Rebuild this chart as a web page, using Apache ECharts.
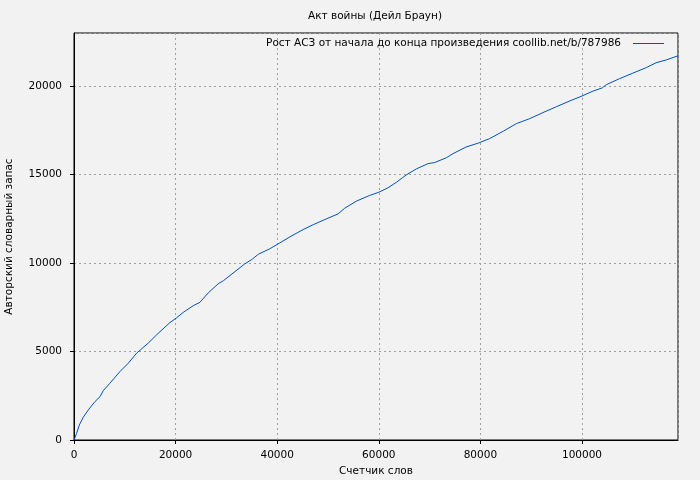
<!DOCTYPE html>
<html>
<head>
<meta charset="utf-8">
<script src="https://cdn.jsdelivr.net/npm/echarts@6/dist/echarts.min.js"></script>
<style>
html,body{margin:0;padding:0;background:#f2f2f2;}
#c{width:700px;height:480px;}
</style>
</head>
<body>
<div id="c"></div>
<script>
var chartTitle = 'Акт войны (Дейл Браун)';
var seriesName = 'Рост АСЗ от начала до конца произведения coollib.net/b/787986';
var xName = 'Счетчик слов';
var yName = 'Авторский словарный запас';

var wordCount = [0,200,520,1050,1830,2820,4130,5120,5770,7080,9050,10690,12330,14620,16270,18890,20130,21500,23470,24790,26420,28390,29400,31300,33600,35000,36300,38500,40000,42500,45100,47100,49400,52000,53300,55600,58200,60000,61800,63500,65400,67400,69700,71000,73300,74600,77200,79600,81800,84500,87100,89700,92300,95000,97600,100000,102200,104000,104800,107400,110000,112700,114600,116600,118900];
var vocabulary = [0,40,380,850,1285,1700,2170,2450,2790,3210,3870,4340,4910,5475,5946,6640,6890,7210,7590,7780,8310,8830,9000,9430,9950,10200,10500,10800,11050,11480,11890,12170,12460,12780,13100,13500,13820,14000,14250,14570,14980,15320,15620,15680,15950,16180,16560,16780,17030,17450,17880,18160,18500,18840,19160,19440,19720,19900,20080,20420,20730,21050,21320,21480,21710];

var xMax = 118900, xStep = 20000;
var yMax = 23000, yStep = 5000;

var pts = wordCount.map(function(x,i){return [x, vocabulary[i]];});
var font = 'DejaVu Sans';
var fs = 10.5;
var chart = echarts.init(document.getElementById('c'), null, {renderer:'canvas'});
chart.setOption({
  backgroundColor:'#f2f2f2',
  animation:false,
  textStyle:{fontFamily:font},
  graphic:[{type:'text', x:375, y:16, style:{text:chartTitle, font:fs+'px DejaVu Sans', fill:'#000', align:'center', verticalAlign:'middle'}}],
  legend:{show:true, right:36, top:38, padding:0, itemWidth:31, itemHeight:1, itemGap:0, icon:'rect', align:'right',
    textStyle:{fontFamily:font, fontSize:fs, color:'#000', padding:[0,7,0,0]}, data:[seriesName]},
  grid:{left:74, right:22, top:33, bottom:40, containLabel:false, outerBoundsMode:'none', show:true, borderColor:'#000', borderWidth:1, backgroundColor:'transparent'},
  xAxis:{type:'value', min:0, max:xMax, interval:xStep,
    name:xName, nameLocation:'middle', nameGap:26, nameTextStyle:{fontFamily:font,fontSize:fs,color:'#000'},
    axisLine:{show:true, lineStyle:{color:'#000',width:1}},
    axisTick:{show:true, inside:false, length:4, lineStyle:{color:'#000'}},
    axisLabel:{fontFamily:font, fontSize:fs, color:'#000', margin:10, showMaxLabel:false, formatter:function(v){return String(v);}},
    splitLine:{show:true, lineStyle:{color:'#a0a0a0', type:[2,3], width:1}}},
  yAxis:{type:'value', min:0, max:yMax, interval:yStep,
    name:yName, nameLocation:'middle', nameGap:59, nameTextStyle:{fontFamily:font,fontSize:fs,color:'#000'},
    axisLine:{show:true, lineStyle:{color:'#000',width:1}},
    axisTick:{show:true, inside:false, length:4, lineStyle:{color:'#000'}},
    axisLabel:{fontFamily:font, fontSize:fs, color:'#000', margin:12, showMaxLabel:false, formatter:function(v){return String(v);}},
    splitLine:{show:true, lineStyle:{color:'#a0a0a0', type:[2,3], width:1}}},
  series:[{name:seriesName, type:'line', data:pts, showSymbol:false, symbol:'none',
    lineStyle:{color:'#0050c0', width:1}, itemStyle:{color:'#0050c0'}}]
});
</script>
</body>
</html>
